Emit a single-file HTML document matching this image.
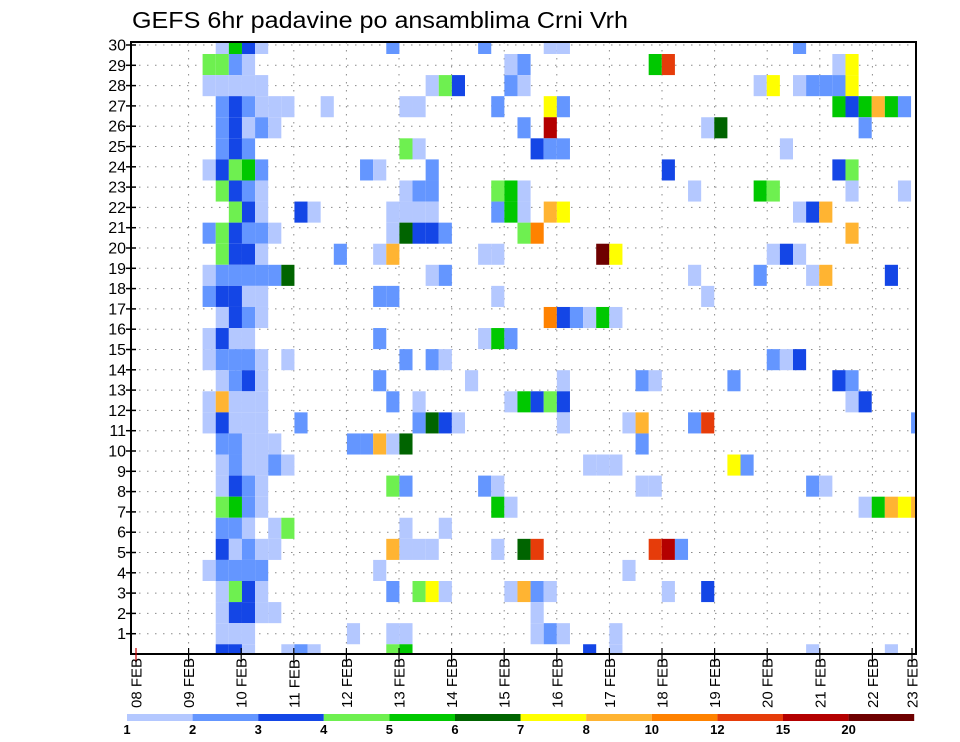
<!DOCTYPE html>
<html><head><meta charset="utf-8"><style>
html,body{margin:0;padding:0;background:#fff;}
svg{display:block;font-family:"Liberation Sans",sans-serif;}
</style></head><body>
<svg id="chart" width="960" height="742" viewBox="0 0 960 742" xmlns="http://www.w3.org/2000/svg">
<text x="132" y="28" font-size="23" font-weight="normal" textLength="496" lengthAdjust="spacingAndGlyphs">GEFS 6hr padavine po ansamblima Crni Vrh</text>
<g id="grid"></g>
<g id="cells"></g>
<g id="axes"></g>
<g id="legend"></g>
</svg>
<script>
// colour levels (mm) and colours
const levelLabels = ["1","2","3","4","5","6","7","8","10","12","15","20"];
const levelBounds = [1,2,3,4,5,6,7,8,10,12,15,20];
const levelColors = ["#b4c8ff","#6496ff","#1446e6","#6ef050","#00c800","#006400","#ffff00","#ffb432","#ff8200","#e63c0a","#b40000","#6e0000"];
const yTickLabels = ["1","2","3","4","5","6","7","8","9","10","11","12","13","14","15","16","17","18","19","20","21","22","23","24","25","26","27","28","29","30"];
const xTickLabels = ["08 FEB","09 FEB","10 FEB","11 FEB","12 FEB","13 FEB","14 FEB","15 FEB","16 FEB","17 FEB","18 FEB","19 FEB","20 FEB","21 FEB","22 FEB","23 FEB"];
// rows (0 = top band), 6-hourly step index, precipitation (mm)
const rowsData = {
0:"7:1.5 8:5.5 9:3.5 10:1.5 20:2.5 27:2.5 32:1.5 33:1.5 51:2.5",
1:"6:4.5 7:4.5 8:2.5 9:1.5 29:1.5 30:2.5 40:5.5 41:13 54:1.5 55:7.5",
2:"6:1.5 7:1.5 8:1.5 9:1.5 10:1.5 23:1.5 24:4.5 25:3.5 29:2.5 30:1.5 48:1.5 49:7.5 51:1.5 52:2.5 53:2.5 54:2.5 55:7.5",
3:"7:2.5 8:3.5 9:2.5 10:1.5 11:1.5 12:1.5 15:1.5 21:1.5 22:1.5 28:2.5 32:7.5 33:2.5 54:5.5 55:3.5 56:5.5 57:9 58:5.5 59:2.5",
4:"7:2.5 8:3.5 9:1.5 10:2.5 11:1.5 30:2.5 32:17 44:1.5 45:6.5 56:2.5",
5:"7:2.5 8:3.5 9:2.5 21:4.5 22:1.5 31:3.5 32:2.5 33:2.5 50:1.5",
6:"6:1.5 7:3.5 8:4.5 9:5.5 10:2.5 18:2.5 19:1.5 23:2.5 41:3.5 54:3.5 55:4.5",
7:"7:4.5 8:3.5 9:2.5 10:1.5 21:1.5 22:2.5 23:2.5 28:4.5 29:5.5 30:1.5 43:1.5 48:5.5 49:4.5 55:1.5 59:1.5",
8:"8:4.5 9:3.5 10:1.5 13:3.5 14:1.5 20:1.5 21:1.5 22:1.5 23:1.5 28:2.5 29:5.5 30:1.5 32:9 33:7.5 51:1.5 52:3.5 53:9",
9:"6:2.5 7:4.5 8:3.5 9:2.5 10:2.5 11:1.5 20:1.5 21:6.5 22:3.5 23:3.5 24:2.5 30:4.5 31:11 55:9",
10:"7:4.5 8:3.5 9:3.5 10:1.5 16:2.5 19:1.5 20:9 27:1.5 28:1.5 36:22 37:7.5 49:1.5 50:3.5 51:1.5",
11:"6:1.5 7:2.5 8:2.5 9:2.5 10:2.5 11:2.5 12:6.5 23:1.5 24:2.5 43:1.5 48:2.5 52:1.5 53:9 58:3.5",
12:"6:2.5 7:3.5 8:3.5 9:1.5 10:1.5 19:2.5 20:2.5 28:1.5 44:1.5",
13:"7:1.5 8:3.5 9:2.5 10:1.5 32:11 33:3.5 34:2.5 35:1.5 36:5.5 37:1.5",
14:"6:1.5 7:3.5 8:1.5 9:1.5 19:2.5 27:1.5 28:5.5 29:2.5",
15:"6:1.5 7:2.5 8:2.5 9:2.5 10:1.5 12:1.5 21:2.5 23:2.5 24:1.5 49:2.5 50:1.5 51:3.5",
16:"7:1.5 8:2.5 9:3.5 10:1.5 19:2.5 26:1.5 33:1.5 39:2.5 40:1.5 46:2.5 54:3.5 55:2.5",
17:"6:1.5 7:9 8:1.5 9:1.5 10:1.5 20:2.5 22:1.5 29:1.5 30:5.5 31:3.5 32:4.5 33:3.5 55:1.5 56:3.5",
18:"6:1.5 7:3.5 8:1.5 9:1.5 10:1.5 13:2.5 22:2.5 23:6.5 24:3.5 25:1.5 33:1.5 38:1.5 39:9 43:2.5 44:13 60:2.5",
19:"7:2.5 8:2.5 9:1.5 10:1.5 11:1.5 17:2.5 18:2.5 19:9 20:1.5 21:6.5 39:2.5",
20:"7:1.5 8:2.5 9:1.5 10:1.5 11:2.5 12:1.5 35:1.5 36:1.5 37:1.5 46:7.5 47:2.5",
21:"7:1.5 8:3.5 9:2.5 10:1.5 20:4.5 21:2.5 27:2.5 28:1.5 39:1.5 40:1.5 52:2.5 53:1.5",
22:"7:4.5 8:5.5 9:2.5 10:1.5 28:5.5 29:1.5 56:1.5 57:5.5 58:9 59:7.5 60:9",
23:"7:2.5 8:2.5 9:1.5 11:1.5 12:4.5 21:1.5 24:1.5",
24:"7:3.5 8:1.5 9:2.5 10:1.5 11:1.5 20:9 21:1.5 22:1.5 23:1.5 28:1.5 30:6.5 31:13 40:13 41:17 42:2.5",
25:"6:1.5 7:2.5 8:2.5 9:2.5 10:2.5 19:1.5 38:1.5",
26:"7:1.5 8:4.5 9:3.5 10:1.5 20:2.5 22:4.5 23:7.5 24:1.5 29:1.5 30:9 31:2.5 32:1.5 41:1.5 44:3.5",
27:"7:1.5 8:3.5 9:3.5 10:1.5 11:1.5 31:1.5",
28:"7:1.5 8:1.5 9:1.5 17:1.5 20:1.5 21:1.5 31:1.5 32:2.5 33:1.5 37:1.5",
29:"7:3.5 8:3.5 9:1.5 12:1.5 13:2.5 14:1.5 20:4.5 21:5.5 35:3.5 37:1.5 52:1.5 58:1.5"
};
const cellRow=[], cellStep=[], cellValue=[];
for (const r in rowsData) rowsData[r].split(" ").forEach(p=>{const [s,v]=p.split(":");cellRow.push(+r);cellStep.push(+s);cellValue.push(+v);});

const NS="http://www.w3.org/2000/svg";
const L=131,R=916,T=42,B=654;
function mk(tag,attrs,parent){const e=document.createElementNS(NS,tag);for(const k in attrs)e.setAttribute(k,attrs[k]);parent.appendChild(e);return e;}
const dayW=52.6, x0=136;
function xDay(d){return x0+d*dayW;}
function xStep(s){return 137+(s-1)*13.12;}
const bandH=21.08;
function yBandTop(r){return 54+(r-1)*bandH;}
function yTick(v){return B-v*20.3;}
function colorFor(v){let c=null;for(let i=0;i<levelBounds.length;i++){if(v>=levelBounds[i])c=levelColors[i];}return c;}

const grid=document.getElementById('grid');
yTickLabels.forEach((lab,i)=>{const y=yTick(i+1);
 const g=mk('line',{x1:L,x2:R,y1:y,y2:y,stroke:'#8a8a8a','stroke-width':1,'stroke-dasharray':'1.5,6.5'},grid);
 
 });
xTickLabels.forEach((lab,i)=>{const x=xDay(i);
 if(i===0||x>=R) return;
 const g=mk('line',{x1:x,x2:x,y1:T,y2:B,stroke:'#8a8a8a','stroke-width':1,'stroke-dasharray':'1.5,6.5'},grid);
 
 });

const cells=document.getElementById('cells');
for(let i=0;i<cellValue.length;i++){
 const c=colorFor(cellValue[i]); if(!c) continue;
 let x=xStep(cellStep[i]), w=13.12; let xe=Math.min(x+w,R); x=Math.max(x,L);
 let y=yBandTop(cellRow[i]), ye=y+bandH; y=Math.max(y,T); ye=Math.min(ye,B);
 const e=mk('rect',{x:x,y:y,width:xe-x,height:ye-y,fill:c},cells);
 
 
}

const axes=document.getElementById('axes');
const fr=mk('rect',{x:L,y:T,width:R-L,height:B-T,fill:'none',stroke:'#000','stroke-width':2},axes);


yTickLabels.forEach((lab,i)=>{const y=yTick(i+1);
 const t=mk('line',{x1:L-5,x2:L+5,y1:y,y2:y,stroke:'#000','stroke-width':1.5},axes);
 
 
 const tx=mk('text',{x:L-5,y:y+5.5,'font-size':16,'text-anchor':'end'},axes);tx.textContent=lab;
 
 });
xTickLabels.forEach((lab,i)=>{let x=xDay(i); if(x>R) x=R-4;
 const t=mk('line',{x1:x,x2:x,y1:B-6,y2:B+8,stroke:i===0?'#c00':'#000','stroke-width':1.2},axes);
 
 
 const tx=mk('text',{x:0,y:0,'font-size':15,transform:`translate(${x+5.5},${708}) rotate(-90)`},axes);tx.textContent=lab;
 
 });

const leg=document.getElementById('legend');
const lx=127, lw=65.6;
levelColors.forEach((c,i)=>{
 const r=mk('rect',{x:lx+i*lw,y:714,width:lw,height:7,fill:c},leg);
 
 
 const t=mk('text',{x:lx+i*lw,y:734,'font-size':13,'font-weight':'bold','text-anchor':'middle'},leg);t.textContent=levelLabels[i];
 
 
});
</script>
</body></html>
